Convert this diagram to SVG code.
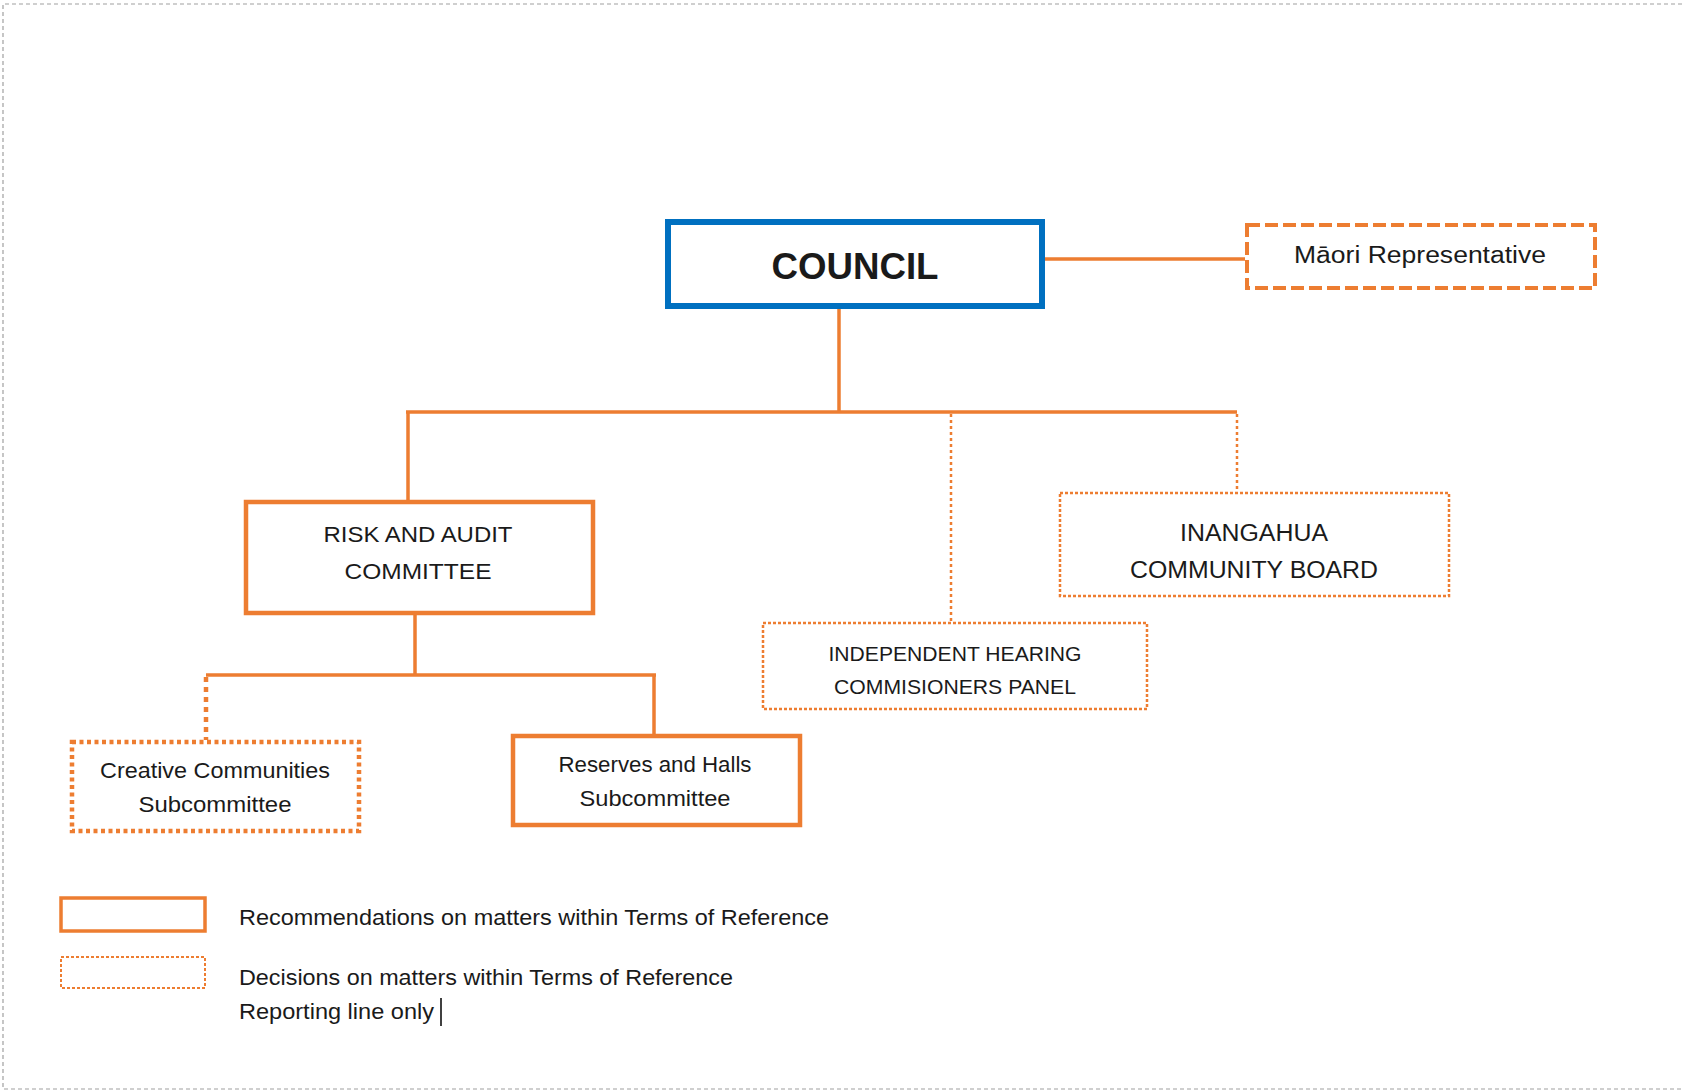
<svg xmlns="http://www.w3.org/2000/svg" width="1682" height="1092" viewBox="0 0 1682 1092">
<style>
  text { font-family: "Liberation Sans", Arial, sans-serif; fill: #1a1a1a; text-anchor: middle; }
  .lg { text-anchor: start; }
  .solid { fill: #fff; stroke: #ED7D31; stroke-width: 4.5; }
  .thickdot { fill: #fff; stroke: #ED7D31; stroke-width: 4.5; stroke-dasharray: 4 3.5; }
  .thindot { fill: #fff; stroke: #ED7D31; stroke-width: 2.5; stroke-dasharray: 3 2; }
  .dash { fill: #fff; stroke: #ED7D31; stroke-width: 4; stroke-dasharray: 13 5; }
  .ln { fill: none; stroke: #ED7D31; stroke-width: 3.5; }
  .lnthick { fill: none; stroke: #ED7D31; stroke-width: 4.5; stroke-dasharray: 5 5; }
  .lnthin { fill: none; stroke: #ED7D31; stroke-width: 2.5; stroke-dasharray: 3 3; }
</style>
<rect width="1682" height="1092" fill="#fff"/>
<path d="M1682 4 H3 V1089 H1682" fill="none" stroke="#a0a0a0" stroke-width="1.2" stroke-dasharray="4 3"/>

<g id="connectors">
  <line class="ln" x1="1044" y1="259" x2="1245" y2="259"/>
  <line class="ln" x1="839" y1="308" x2="839" y2="412"/>
  <line class="ln" x1="406" y1="412" x2="1237" y2="412"/>
  <line class="ln" x1="408" y1="412" x2="408" y2="501"/>
  <line class="lnthin" x1="951" y1="414" x2="951" y2="622"/>
  <line class="lnthin" x1="1237" y1="414" x2="1237" y2="492"/>
  <line class="ln" x1="415" y1="614" x2="415" y2="675"/>
  <line class="ln" x1="206" y1="675" x2="656" y2="675"/>
  <line class="lnthick" x1="206" y1="677" x2="206" y2="740"/>
  <line class="ln" x1="654" y1="675" x2="654" y2="735"/>
</g>

<g id="council">
  <rect x="668" y="222" width="374" height="84" fill="#fff" stroke="#0070C0" stroke-width="6"/>
  <text x="855" y="279" font-size="36" font-weight="bold" fill="#000" textLength="167" lengthAdjust="spacingAndGlyphs">COUNCIL</text>
</g>

<g id="maori">
  <rect class="dash" x="1247" y="225" width="348" height="63"/>
  <text x="1420" y="263" font-size="23" textLength="252" lengthAdjust="spacingAndGlyphs">Māori Representative</text>
</g>

<g id="risk-audit">
  <rect class="solid" x="246" y="502" width="347" height="111"/>
  <text x="418" y="542" font-size="22" textLength="189" lengthAdjust="spacingAndGlyphs">RISK AND AUDIT</text>
  <text x="418" y="579" font-size="22" textLength="147" lengthAdjust="spacingAndGlyphs">COMMITTEE</text>
</g>

<g id="inangahua">
  <rect class="thindot" x="1060" y="493" width="389" height="103"/>
  <text x="1254" y="541" font-size="23" textLength="148" lengthAdjust="spacingAndGlyphs">INANGAHUA</text>
  <text x="1254" y="578" font-size="23" textLength="248" lengthAdjust="spacingAndGlyphs">COMMUNITY BOARD</text>
</g>

<g id="hearing-panel">
  <rect class="thindot" x="763" y="623" width="384" height="86"/>
  <text x="955" y="661" font-size="21" textLength="253" lengthAdjust="spacingAndGlyphs">INDEPENDENT HEARING</text>
  <text x="955" y="694" font-size="21" textLength="242" lengthAdjust="spacingAndGlyphs">COMMISIONERS PANEL</text>
</g>

<g id="creative-communities">
  <rect class="thickdot" x="72" y="742" width="287" height="89"/>
  <text x="215" y="778" font-size="22" textLength="230" lengthAdjust="spacingAndGlyphs">Creative Communities</text>
  <text x="215" y="812" font-size="22" textLength="153" lengthAdjust="spacingAndGlyphs">Subcommittee</text>
</g>

<g id="reserves-halls">
  <rect class="solid" x="513" y="736" width="287" height="89"/>
  <text x="655" y="772" font-size="22" textLength="193" lengthAdjust="spacingAndGlyphs">Reserves and Halls</text>
  <text x="655" y="806" font-size="22" textLength="151" lengthAdjust="spacingAndGlyphs">Subcommittee</text>
</g>

<g id="legend">
  <rect x="61" y="898" width="144" height="33" fill="#fff" stroke="#ED7D31" stroke-width="3.5"/>
  <rect x="61" y="957" width="144" height="31" fill="#fff" stroke="#ED7D31" stroke-width="2" stroke-dasharray="3 2"/>
  <text class="lg" x="239" y="925" font-size="22" textLength="590" lengthAdjust="spacingAndGlyphs">Recommendations on matters within Terms of Reference</text>
  <text class="lg" x="239" y="985" font-size="22" textLength="494" lengthAdjust="spacingAndGlyphs">Decisions on matters within Terms of Reference</text>
  <text class="lg" x="239" y="1019" font-size="22" textLength="195" lengthAdjust="spacingAndGlyphs">Reporting line only</text>
  <line x1="441" y1="998" x2="441" y2="1026" stroke="#000" stroke-width="1.5"/>
</g>
</svg>
